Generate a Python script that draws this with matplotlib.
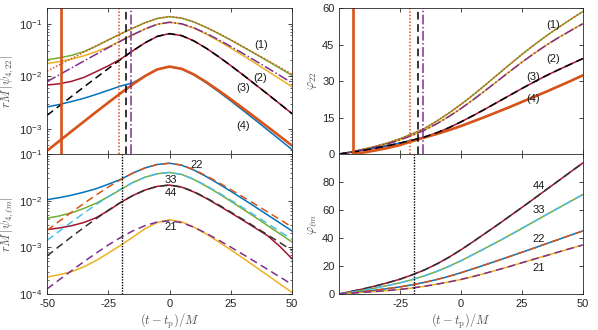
import numpy as np
import matplotlib
matplotlib.use("Agg")
import matplotlib.pyplot as plt
from matplotlib.ticker import LogLocator, NullFormatter

plt.rcParams['font.family'] = ['Liberation Sans', 'DejaVu Sans']
plt.rcParams['mathtext.fontset'] = 'cm'
plt.rcParams['axes.unicode_minus'] = False

# ---- data -------------------------------------------------------------
t = [-50, -45, -40, -35, -30, -25, -20, -15, -10, -5, 0,
     5, 10, 15, 20, 25, 30, 35, 40, 45, 50]

# top left: |psi4_22| for cases (1)-(4); NR (solid) and fit
amp1_nr = [0.0206, 0.0225, 0.025, 0.0295, 0.0375, 0.0492, 0.0641, 0.0827, 0.1047, 0.1265, 0.137,
           0.1285, 0.1082, 0.0855, 0.0654, 0.049, 0.0363, 0.0267, 0.0196, 0.0143, 0.0104]
amp1_fit = [0.0125, 0.0165, 0.0217, 0.0286, 0.0376, 0.0492, 0.0641, 0.0827, 0.1047, 0.1265, 0.137,
            0.1285, 0.1082, 0.0855, 0.0656, 0.0495, 0.0368, 0.0272, 0.0201, 0.0148, 0.0109]
amp2_nr = [0.0175, 0.019, 0.0213, 0.0245, 0.0295, 0.036, 0.0472, 0.0617, 0.0797, 0.0979, 0.107,
           0.0995, 0.0824, 0.0637, 0.0474, 0.0345, 0.0248, 0.01774, 0.0126, 0.00892, 0.0063]
amp2_fit = [0.0079, 0.01068, 0.01442, 0.01945, 0.0262, 0.0351, 0.0468, 0.0617, 0.0797, 0.0979, 0.107,
            0.0999, 0.0838, 0.0657, 0.0498, 0.037, 0.0272, 0.0198, 0.01436, 0.01038, 0.00748]
amp3_nr = [0.0068, 0.0072, 0.008, 0.0095, 0.0122, 0.0158, 0.0212, 0.0305, 0.0434, 0.0576, 0.065,
           0.0595, 0.0471, 0.0342, 0.0237, 0.016, 0.01064, 0.007, 0.00459, 0.00299, 0.00194]
amp3_fit = [0.0018, 0.00272, 0.00412, 0.00622, 0.00935, 0.014, 0.0208, 0.0305, 0.0434, 0.0576, 0.065,
            0.0595, 0.0471, 0.0342, 0.0237, 0.016, 0.01064, 0.007, 0.00459, 0.00299, 0.00194]
amp4_nr = [0.0026, 0.0029, 0.0033, 0.0038, 0.0045, 0.0054, 0.0065, 0.0075, 0.0101, 0.0135, 0.0153,
           0.01378, 0.0106, 0.0075, 0.0051, 0.0034, 0.00224, 0.001466, 0.000954, 0.000619, 0.000401]
amp4_fit = [0.00038, 0.000583, 0.000893, 0.001364, 0.00208, 0.00315, 0.00474, 0.00702, 0.0101, 0.01352, 0.0153,
            0.01386, 0.0108, 0.00776, 0.00538, 0.00366, 0.00246, 0.00164, 0.00109, 0.000723, 0.000478]

# top right: phase of the 22 mode
ph1 = [0, 0.9, 2.0, 3.2, 4.6, 6.3, 8.3, 10.5, 13.5, 16.8, 20.4,
       24.3, 28.4, 32.6, 36.8, 40.9, 44.8, 48.5, 52.0, 55.3, 58.5]
ph2 = [0, 0.8, 1.8, 2.9, 4.2, 5.8, 7.7, 9.8, 12.4, 15.4, 18.7,
       22.3, 26.1, 30.0, 33.9, 37.7, 41.3, 44.7, 47.8, 50.7, 53.5]
ph3 = [0, 0.7, 1.5, 2.4, 3.4, 4.5, 5.7, 7.0, 8.7, 10.8, 13.2,
       15.8, 18.5, 21.3, 24.1, 26.9, 29.6, 32.2, 34.6, 36.9, 39.2]
ph4 = [0, 0.8, 1.7, 2.6, 3.5, 4.5, 5.6, 6.8, 8.2, 9.8, 11.5,
       13.4, 15.3, 17.3, 19.3, 21.4, 23.5, 25.6, 27.8, 30.0, 32.3]
t_ph4_fit = [-44.3, -40, -35, -30, -25, -20, -15, -10, -5, 0,
             5, 10, 15, 20, 25, 30, 35, 40, 45, 50]
ph4_fit = [0, 0.6, 1.5, 2.5, 3.7, 5.3, 6.8, 8.2, 9.8, 11.5,
           13.4, 15.3, 17.3, 19.3, 21.4, 23.5, 25.6, 27.8, 30.0, 32.3]

# matching times (vertical lines)
t_match = {'4': -44.3, '1': -20.8, '3': -17.8, '2': -15.6}
t_match_lm = -19.5

# bottom left: |psi4_lm| for case (1); NR (solid) and fit (dashed)
a22_nr = [0.0105, 0.0116, 0.0131, 0.0152, 0.018, 0.0225, 0.0285, 0.0389, 0.0503, 0.0597, 0.0634,
          0.0576, 0.0452, 0.0329, 0.0231, 0.01594, 0.01087, 0.00736, 0.00496, 0.00334, 0.00224]
a22_fit = [0.00231, 0.00362, 0.00564, 0.00868, 0.01316, 0.01955, 0.0282, 0.0389, 0.0503, 0.0597, 0.0634,
           0.0579, 0.0461, 0.0342, 0.0245, 0.01726, 0.01204, 0.00834, 0.00575, 0.00396, 0.00272]
a33_nr = [0.0042, 0.0047, 0.0055, 0.0068, 0.0088, 0.0121, 0.0172, 0.0245, 0.0318, 0.0378, 0.0402,
          0.0364, 0.0284, 0.0205, 0.01428, 0.00974, 0.00658, 0.00441, 0.00294, 0.00196, 0.0013]
a33_fit = [0.00141, 0.00222, 0.00348, 0.00538, 0.00819, 0.01222, 0.0177, 0.0245, 0.0318, 0.0378, 0.0402,
           0.0365, 0.0288, 0.021, 0.01484, 0.01027, 0.00704, 0.00479, 0.00325, 0.00219, 0.00148]
a44_nr = [0.0024, 0.0026, 0.0029, 0.0034, 0.0043, 0.0061, 0.0091, 0.01287, 0.0169, 0.02025, 0.0216,
          0.0195, 0.0153, 0.0112, 0.0079, 0.0055, 0.0038, 0.0026, 0.00178, 0.00105, 0.00057]
a44_fit = [0.000653, 0.001052, 0.001678, 0.002647, 0.0041, 0.00623, 0.00917, 0.01287, 0.0169, 0.02025, 0.0216,
           0.01966, 0.01558, 0.01148, 0.00817, 0.0057, 0.00395, 0.00271, 0.001854, 0.001264, 0.000861]
a21_nr = [0.00023, 0.00026, 0.0003, 0.00038, 0.00052, 0.00075, 0.0011, 0.00165, 0.0025, 0.0034, 0.0039,
          0.00351, 0.00271, 0.00193, 0.00132, 0.000885, 0.000587, 0.000386, 0.000253, 0.000165, 0.000108]
a21_fit = [0.000128, 0.000202, 0.000316, 0.00049, 0.000748, 0.00112, 0.00162, 0.00225, 0.00292, 0.00348, 0.0037,
           0.00338, 0.00269, 0.002, 0.001434, 0.00101, 0.000706, 0.000489, 0.000338, 0.000233, 0.00016]

# bottom right: phases of the lm modes
p44 = [0, 1.9, 3.7, 5.8, 8.1, 10.6, 13.7, 17.2, 21.4, 26.2, 31.6,
       37.4, 43.4, 49.4, 55.6, 61.8, 68.1, 74.5, 80.8, 87.2, 93.5]
p33 = [0, 1.4, 2.8, 4.4, 6.1, 8.0, 10.3, 13.0, 16.1, 19.7, 23.8,
       28.2, 32.7, 37.3, 42.0, 46.8, 51.7, 56.6, 61.4, 66.2, 71.0]
p22 = [0, 0.9, 1.8, 2.8, 3.9, 5.1, 6.6, 8.3, 10.3, 12.6, 15.2,
       18.0, 20.9, 23.8, 26.8, 29.8, 32.8, 35.9, 38.9, 42.0, 45.0]
p21 = [0, 0.6, 1.2, 1.8, 2.5, 3.3, 4.3, 5.5, 7.0, 8.6, 10.4,
       12.5, 14.8, 17.2, 19.7, 22.3, 24.9, 27.4, 30.0, 32.5, 35.0]

case_labels = ['(1)', '(2)', '(3)', '(4)']
mode_labels = ['22', '33', '44', '21']

# ---- style ------------------------------------------------------------
BLUE = '#0072BD'
ORANGE = '#D95319'
YELLOW = '#EDB120'
PURPLE = '#7E2F8E'
GREEN = '#77AC30'
CYAN = '#4DBEEE'
CRIMSON = '#A2142F'
AXC = '#262626'
LABC = '#555555'

fig = plt.figure(figsize=(5.98, 3.30), dpi=100)
ax_tl = fig.add_axes([0.0786, 0.5333, 0.4097, 0.4424])
ax_bl = fig.add_axes([0.0786, 0.1091, 0.4097, 0.4242])
ax_tr = fig.add_axes([0.5674, 0.5333, 0.4070, 0.4424])
ax_br = fig.add_axes([0.5674, 0.1091, 0.4070, 0.4242])

lw = 1.1
dashed = (0, (5, 3))
dotted = (0, (1, 1.2))


def style(ax):
    ax.tick_params(direction='in', which='both', top=True, right=True,
                   labelsize=8, colors=AXC, length=3, width=0.6)
    ax.tick_params(which='minor', length=1.6, width=0.5)
    for s in ax.spines.values():
        s.set_linewidth(0.6)
        s.set_color(AXC)
    ax.set_xlim(-50, 50)


def log_axis(ax):
    ax.set_yscale('log')
    ax.yaxis.set_major_locator(LogLocator(base=10, numticks=10))
    ax.yaxis.set_minor_locator(LogLocator(base=10, subs=np.arange(2, 10), numticks=20))
    ax.yaxis.set_minor_formatter(NullFormatter())


def put_labels(ax, labels, xs, ys):
    for lab, x, y in zip(labels, xs, ys):
        ax.text(x, y, lab, fontsize=8, ha='center', va='center', color='#1a1a1a')


# top left
ax = ax_tl
ax.plot(t, amp1_nr, color=GREEN, lw=lw)
ax.plot(t, amp2_nr, color=YELLOW, lw=lw)
ax.plot(t, amp3_nr, color=CRIMSON, lw=lw)
ax.plot(t, amp4_nr, color=BLUE, lw=lw)
ax.plot(t, amp4_fit, color=ORANGE, lw=1.9)
ax.plot(t, amp1_fit, color=ORANGE, lw=lw, ls=dotted)
ax.plot(t, amp2_fit, color=PURPLE, lw=lw, ls='-.')
ax.plot(t, amp3_fit, color='k', lw=lw, ls=dashed)
ax.axvline(t_match['4'], color=ORANGE, lw=1.9)
ax.axvline(t_match['1'], color=ORANGE, lw=lw, ls=dotted)
ax.axvline(t_match['3'], color='k', lw=lw, ls=dashed)
ax.axvline(t_match['2'], color=PURPLE, lw=lw, ls='-.')
log_axis(ax)
ax.set_ylim(3.3e-4, 0.2)
style(ax)
ax.set_xticks([-50, -25, 0, 25, 50])
ax.set_xticklabels([])
put_labels(ax, case_labels, [37.6, 37.0, 30.0, 30.0], [0.039, 0.0093, 0.0059, 0.00112])
ax.set_ylabel(r'$rM\,|\psi_{4,22}|$', fontsize=9, color=LABC)
ax.yaxis.set_label_coords(-0.125, 0.5)

# bottom left
ax = ax_bl
ax.plot(t, a22_nr, color=BLUE, lw=lw)
ax.plot(t, a33_nr, color=GREEN, lw=lw)
ax.plot(t, a44_nr, color=CRIMSON, lw=lw)
ax.plot(t, a21_nr, color=YELLOW, lw=lw)
ax.plot(t, a22_fit, color=ORANGE, lw=lw, ls=dashed)
ax.plot(t, a33_fit, color=CYAN, lw=lw, ls=dashed)
ax.plot(t, a44_fit, color='#333333', lw=lw, ls=dashed)
ax.plot(t, a21_fit, color=PURPLE, lw=lw, ls=dashed)
ax.axvline(t_match_lm, color='k', lw=1.0, ls=(0, (1, 1)))
log_axis(ax)
ax.set_ylim(1e-4, 1e-1)
style(ax)
ax.set_xticks([-50, -25, 0, 25, 50])
put_labels(ax, mode_labels, [11, 0.5, 0.5, 0.5], [0.0575, 0.028, 0.0146, 0.00275])
ax.set_ylabel(r'$rM\,|\psi_{4,\ell m}|$', fontsize=9, color=LABC)
ax.yaxis.set_label_coords(-0.125, 0.5)
ax.set_xlabel(r'$(t-t_{\rm p})/M$', fontsize=9, color=LABC, labelpad=2)

# top right
ax = ax_tr
ax.plot(t, ph1, color=GREEN, lw=lw)
ax.plot(t, ph2, color=YELLOW, lw=lw)
ax.plot(t, ph3, color=CRIMSON, lw=lw)
ax.plot(t, ph4, color=BLUE, lw=lw)
ax.plot(t_ph4_fit, ph4_fit, color=ORANGE, lw=1.9)
ax.plot(t, ph1, color=ORANGE, lw=lw, ls=dotted)
ax.plot(t, ph2, color=PURPLE, lw=lw, ls='-.')
ax.plot(t, ph3, color='k', lw=lw, ls=dashed)
ax.axvline(t_match['4'], color=ORANGE, lw=1.9)
ax.axvline(t_match['1'], color=ORANGE, lw=lw, ls=dotted)
ax.axvline(t_match['3'], color='k', lw=lw, ls=dashed)
ax.axvline(t_match['2'], color=PURPLE, lw=lw, ls='-.')
ax.set_ylim(0, 60)
ax.set_yticks([0, 15, 30, 45, 60])
style(ax)
ax.set_xticks([-25, 0, 25, 50])
ax.set_xticklabels([])
put_labels(ax, case_labels, [38, 37.8, 29.6, 29.6], [53, 39.2, 31.6, 22.8])
ax.set_ylabel(r'$\varphi_{22}$', fontsize=9, color=LABC)
ax.yaxis.set_label_coords(-0.085, 0.5)

# bottom right
ax = ax_br
ax.plot(t, p44, color=CRIMSON, lw=lw)
ax.plot(t, p33, color=GREEN, lw=lw)
ax.plot(t, p22, color=BLUE, lw=lw)
ax.plot(t, p21, color=YELLOW, lw=lw)
ax.plot(t, p44, color='#333333', lw=lw, ls=dashed)
ax.plot(t, p33, color=CYAN, lw=lw, ls=dashed)
ax.plot(t, p22, color=ORANGE, lw=lw, ls=dashed)
ax.plot(t, p21, color=PURPLE, lw=lw, ls=dashed)
ax.axvline(t_match_lm, color='k', lw=1.0, ls=(0, (1, 1)))
ax.set_ylim(0, 100)
ax.set_yticks([0, 20, 40, 60, 80])
style(ax)
ax.set_xticks([-25, 0, 25, 50])
put_labels(ax, ['44', '33', '22', '21'], [32, 32, 32, 32], [77, 59.7, 39.3, 18.8])
ax.set_ylabel(r'$\varphi_{\ell m}$', fontsize=9, color=LABC)
ax.yaxis.set_label_coords(-0.085, 0.5)
ax.set_xlabel(r'$(t-t_{\rm p})/M$', fontsize=9, color=LABC, labelpad=2)

fig.savefig('out.png', dpi=100)
